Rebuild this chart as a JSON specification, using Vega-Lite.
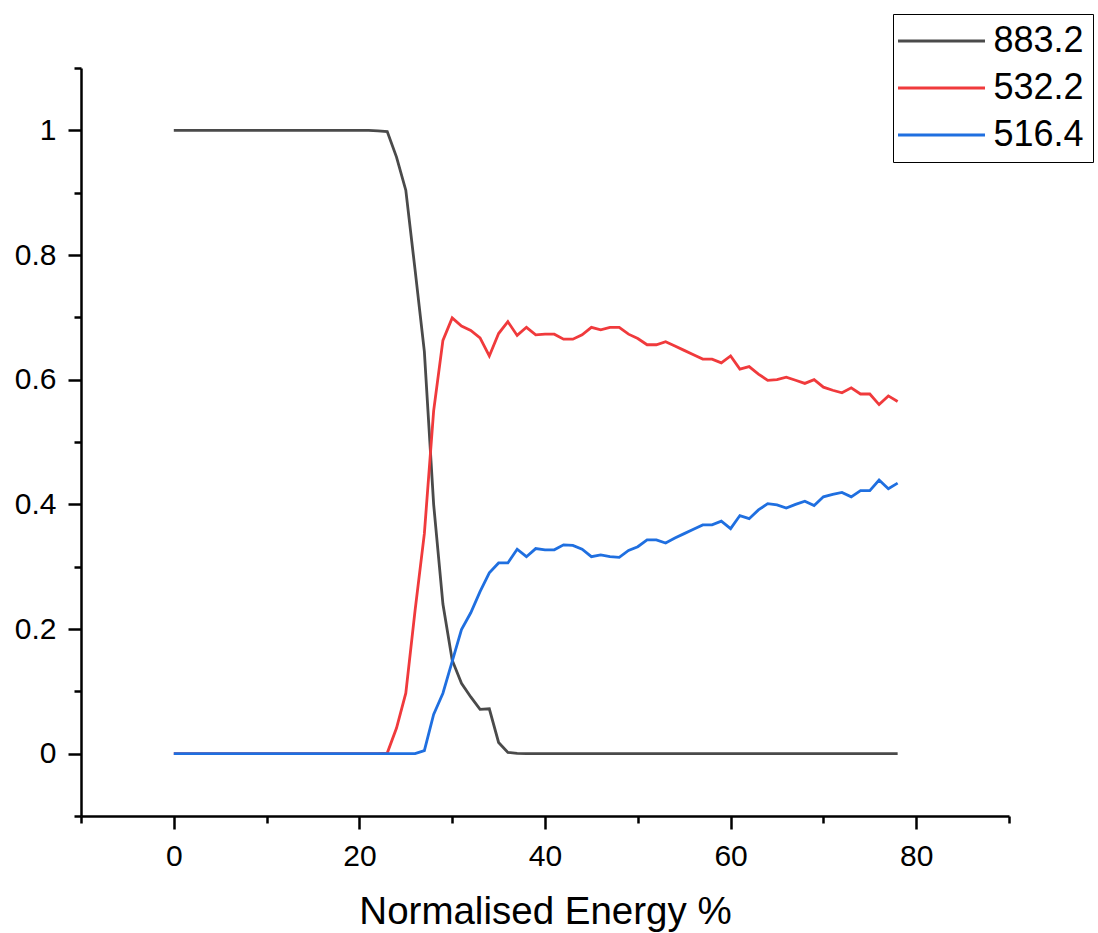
{
  "$schema": "https://vega.github.io/schema/vega-lite/v6.json",
  "width": 928,
  "height": 748,
  "autosize": {"type": "none"},
  "padding": {"left": 81, "top": 68, "right": 89, "bottom": 117},
  "background": "white",
  "config": {"font": "Liberation Sans", "view": {"stroke": null}},
  "datasets": {
    "curves": [
      {"x":0,"s":"883.2","y":1},{"x":1,"s":"883.2","y":1},{"x":2,"s":"883.2","y":1},{"x":3,"s":"883.2","y":1},{"x":4,"s":"883.2","y":1},{"x":5,"s":"883.2","y":1},{"x":6,"s":"883.2","y":1},{"x":7,"s":"883.2","y":1},{"x":8,"s":"883.2","y":1},{"x":9,"s":"883.2","y":1},{"x":10,"s":"883.2","y":1},{"x":11,"s":"883.2","y":1},{"x":12,"s":"883.2","y":1},{"x":13,"s":"883.2","y":1},{"x":14,"s":"883.2","y":1},{"x":15,"s":"883.2","y":1},{"x":16,"s":"883.2","y":1},{"x":17,"s":"883.2","y":1},{"x":18,"s":"883.2","y":1},{"x":19,"s":"883.2","y":1},{"x":20,"s":"883.2","y":1},{"x":21,"s":"883.2","y":1},{"x":22,"s":"883.2","y":0.999},{"x":23,"s":"883.2","y":0.998},{"x":24,"s":"883.2","y":0.957},{"x":25,"s":"883.2","y":0.904},{"x":26,"s":"883.2","y":0.776},{"x":27,"s":"883.2","y":0.645},{"x":28,"s":"883.2","y":0.4},{"x":29,"s":"883.2","y":0.24},{"x":30,"s":"883.2","y":0.15},{"x":31,"s":"883.2","y":0.113},{"x":32,"s":"883.2","y":0.091},{"x":33,"s":"883.2","y":0.071},{"x":34,"s":"883.2","y":0.072},{"x":35,"s":"883.2","y":0.018},{"x":36,"s":"883.2","y":0.002},{"x":37,"s":"883.2","y":0.0005},{"x":38,"s":"883.2","y":0},{"x":39,"s":"883.2","y":0},{"x":40,"s":"883.2","y":0},{"x":41,"s":"883.2","y":0},{"x":42,"s":"883.2","y":0},{"x":43,"s":"883.2","y":0},{"x":44,"s":"883.2","y":0},{"x":45,"s":"883.2","y":0},{"x":46,"s":"883.2","y":0},{"x":47,"s":"883.2","y":0},{"x":48,"s":"883.2","y":0},{"x":49,"s":"883.2","y":0},{"x":50,"s":"883.2","y":0},{"x":51,"s":"883.2","y":0},{"x":52,"s":"883.2","y":0},{"x":53,"s":"883.2","y":0},{"x":54,"s":"883.2","y":0},{"x":55,"s":"883.2","y":0},{"x":56,"s":"883.2","y":0},{"x":57,"s":"883.2","y":0},{"x":58,"s":"883.2","y":0},{"x":59,"s":"883.2","y":0},{"x":60,"s":"883.2","y":0},{"x":61,"s":"883.2","y":0},{"x":62,"s":"883.2","y":0},{"x":63,"s":"883.2","y":0},{"x":64,"s":"883.2","y":0},{"x":65,"s":"883.2","y":0},{"x":66,"s":"883.2","y":0},{"x":67,"s":"883.2","y":0},{"x":68,"s":"883.2","y":0},{"x":69,"s":"883.2","y":0},{"x":70,"s":"883.2","y":0},{"x":71,"s":"883.2","y":0},{"x":72,"s":"883.2","y":0},{"x":73,"s":"883.2","y":0},{"x":74,"s":"883.2","y":0},{"x":75,"s":"883.2","y":0},{"x":76,"s":"883.2","y":0},{"x":77,"s":"883.2","y":0},{"x":78,"s":"883.2","y":0},
      {"x":0,"s":"532.2","y":0},{"x":1,"s":"532.2","y":0},{"x":2,"s":"532.2","y":0},{"x":3,"s":"532.2","y":0},{"x":4,"s":"532.2","y":0},{"x":5,"s":"532.2","y":0},{"x":6,"s":"532.2","y":0},{"x":7,"s":"532.2","y":0},{"x":8,"s":"532.2","y":0},{"x":9,"s":"532.2","y":0},{"x":10,"s":"532.2","y":0},{"x":11,"s":"532.2","y":0},{"x":12,"s":"532.2","y":0},{"x":13,"s":"532.2","y":0},{"x":14,"s":"532.2","y":0},{"x":15,"s":"532.2","y":0},{"x":16,"s":"532.2","y":0},{"x":17,"s":"532.2","y":0},{"x":18,"s":"532.2","y":0},{"x":19,"s":"532.2","y":0},{"x":20,"s":"532.2","y":0},{"x":21,"s":"532.2","y":0},{"x":22,"s":"532.2","y":0},{"x":23,"s":"532.2","y":0.001},{"x":24,"s":"532.2","y":0.041},{"x":25,"s":"532.2","y":0.097},{"x":26,"s":"532.2","y":0.23},{"x":27,"s":"532.2","y":0.353},{"x":28,"s":"532.2","y":0.55},{"x":29,"s":"532.2","y":0.663},{"x":30,"s":"532.2","y":0.699},{"x":31,"s":"532.2","y":0.686},{"x":32,"s":"532.2","y":0.679},{"x":33,"s":"532.2","y":0.667},{"x":34,"s":"532.2","y":0.638},{"x":35,"s":"532.2","y":0.674},{"x":36,"s":"532.2","y":0.693},{"x":37,"s":"532.2","y":0.671},{"x":38,"s":"532.2","y":0.684},{"x":39,"s":"532.2","y":0.672},{"x":40,"s":"532.2","y":0.673},{"x":41,"s":"532.2","y":0.673},{"x":42,"s":"532.2","y":0.665},{"x":43,"s":"532.2","y":0.665},{"x":44,"s":"532.2","y":0.672},{"x":45,"s":"532.2","y":0.684},{"x":46,"s":"532.2","y":0.68},{"x":47,"s":"532.2","y":0.684},{"x":48,"s":"532.2","y":0.684},{"x":49,"s":"532.2","y":0.673},{"x":50,"s":"532.2","y":0.666},{"x":51,"s":"532.2","y":0.656},{"x":52,"s":"532.2","y":0.656},{"x":53,"s":"532.2","y":0.661},{"x":54,"s":"532.2","y":0.654},{"x":55,"s":"532.2","y":0.647},{"x":56,"s":"532.2","y":0.64},{"x":57,"s":"532.2","y":0.633},{"x":58,"s":"532.2","y":0.633},{"x":59,"s":"532.2","y":0.627},{"x":60,"s":"532.2","y":0.638},{"x":61,"s":"532.2","y":0.617},{"x":62,"s":"532.2","y":0.621},{"x":63,"s":"532.2","y":0.609},{"x":64,"s":"532.2","y":0.599},{"x":65,"s":"532.2","y":0.6},{"x":66,"s":"532.2","y":0.604},{"x":67,"s":"532.2","y":0.599},{"x":68,"s":"532.2","y":0.594},{"x":69,"s":"532.2","y":0.6},{"x":70,"s":"532.2","y":0.588},{"x":71,"s":"532.2","y":0.583},{"x":72,"s":"532.2","y":0.579},{"x":73,"s":"532.2","y":0.587},{"x":74,"s":"532.2","y":0.577},{"x":75,"s":"532.2","y":0.577},{"x":76,"s":"532.2","y":0.56},{"x":77,"s":"532.2","y":0.574},{"x":78,"s":"532.2","y":0.565},
      {"x":0,"s":"516.4","y":0},{"x":1,"s":"516.4","y":0},{"x":2,"s":"516.4","y":0},{"x":3,"s":"516.4","y":0},{"x":4,"s":"516.4","y":0},{"x":5,"s":"516.4","y":0},{"x":6,"s":"516.4","y":0},{"x":7,"s":"516.4","y":0},{"x":8,"s":"516.4","y":0},{"x":9,"s":"516.4","y":0},{"x":10,"s":"516.4","y":0},{"x":11,"s":"516.4","y":0},{"x":12,"s":"516.4","y":0},{"x":13,"s":"516.4","y":0},{"x":14,"s":"516.4","y":0},{"x":15,"s":"516.4","y":0},{"x":16,"s":"516.4","y":0},{"x":17,"s":"516.4","y":0},{"x":18,"s":"516.4","y":0},{"x":19,"s":"516.4","y":0},{"x":20,"s":"516.4","y":0},{"x":21,"s":"516.4","y":0},{"x":22,"s":"516.4","y":0},{"x":23,"s":"516.4","y":0},{"x":24,"s":"516.4","y":0},{"x":25,"s":"516.4","y":0},{"x":26,"s":"516.4","y":0},{"x":27,"s":"516.4","y":0.005},{"x":28,"s":"516.4","y":0.063},{"x":29,"s":"516.4","y":0.097},{"x":30,"s":"516.4","y":0.148},{"x":31,"s":"516.4","y":0.199},{"x":32,"s":"516.4","y":0.226},{"x":33,"s":"516.4","y":0.26},{"x":34,"s":"516.4","y":0.29},{"x":35,"s":"516.4","y":0.306},{"x":36,"s":"516.4","y":0.306},{"x":37,"s":"516.4","y":0.328},{"x":38,"s":"516.4","y":0.316},{"x":39,"s":"516.4","y":0.329},{"x":40,"s":"516.4","y":0.327},{"x":41,"s":"516.4","y":0.327},{"x":42,"s":"516.4","y":0.335},{"x":43,"s":"516.4","y":0.334},{"x":44,"s":"516.4","y":0.328},{"x":45,"s":"516.4","y":0.316},{"x":46,"s":"516.4","y":0.319},{"x":47,"s":"516.4","y":0.316},{"x":48,"s":"516.4","y":0.315},{"x":49,"s":"516.4","y":0.326},{"x":50,"s":"516.4","y":0.332},{"x":51,"s":"516.4","y":0.343},{"x":52,"s":"516.4","y":0.343},{"x":53,"s":"516.4","y":0.338},{"x":54,"s":"516.4","y":0.346},{"x":55,"s":"516.4","y":0.353},{"x":56,"s":"516.4","y":0.36},{"x":57,"s":"516.4","y":0.367},{"x":58,"s":"516.4","y":0.367},{"x":59,"s":"516.4","y":0.373},{"x":60,"s":"516.4","y":0.361},{"x":61,"s":"516.4","y":0.382},{"x":62,"s":"516.4","y":0.377},{"x":63,"s":"516.4","y":0.391},{"x":64,"s":"516.4","y":0.401},{"x":65,"s":"516.4","y":0.399},{"x":66,"s":"516.4","y":0.394},{"x":67,"s":"516.4","y":0.4},{"x":68,"s":"516.4","y":0.405},{"x":69,"s":"516.4","y":0.398},{"x":70,"s":"516.4","y":0.412},{"x":71,"s":"516.4","y":0.416},{"x":72,"s":"516.4","y":0.419},{"x":73,"s":"516.4","y":0.412},{"x":74,"s":"516.4","y":0.422},{"x":75,"s":"516.4","y":0.422},{"x":76,"s":"516.4","y":0.439},{"x":77,"s":"516.4","y":0.425},{"x":78,"s":"516.4","y":0.434}
    ]
  },
  "data": {"name": "curves"},
  "mark": {"type": "line", "strokeWidth": 2.8, "strokeJoin": "miter"},
  "encoding": {
    "x": {
      "field": "x", "type": "quantitative",
      "scale": {"domain": [-10, 90], "nice": false, "zero": false},
      "axis": {
        "title": "Normalised Energy %",
        "values": [-10, 0, 10, 20, 30, 40, 50, 60, 70, 80, 90],
        "labelExpr": "datum.value % 20 === 0 ? datum.label : ''",
        "grid": false,
        "domainColor": "black", "domainWidth": 2.5,
        "tickColor": "black", "tickWidth": 2.5,
        "tickSize": {"condition": {"test": "datum.value % 20 === 0", "value": 13}, "value": 7},
        "labelFontSize": 30, "labelColor": "black", "labelPadding": 12, "labelFont": "Liberation Sans",
        "titleFontSize": 38.5, "titleColor": "black", "titleFontWeight": "normal", "titleFont": "Liberation Sans", "titlePadding": 22
      }
    },
    "y": {
      "field": "y", "type": "quantitative",
      "scale": {"domain": [-0.1, 1.1], "nice": false, "zero": false},
      "axis": {
        "title": null,
        "values": [-0.1, 0, 0.1, 0.2, 0.3, 0.4, 0.5, 0.6, 0.7, 0.8, 0.9, 1, 1.1],
        "labelExpr": "abs(datum.value * 5 - round(datum.value * 5)) < 0.001 ? format(datum.value, '~g') : ''",
        "grid": false,
        "domainColor": "black", "domainWidth": 2.5,
        "tickColor": "black", "tickWidth": 2.5,
        "tickSize": {"condition": {"test": "abs(datum.value * 5 - round(datum.value * 5)) < 0.001", "value": 13}, "value": 7},
        "labelFontSize": 30, "labelColor": "black", "labelPadding": 12, "labelFont": "Liberation Sans"
      }
    },
    "color": {
      "field": "s", "type": "nominal",
      "scale": {"domain": ["883.2", "532.2", "516.4"], "range": ["#4a4a4a", "#f03a3c", "#1f6fe0"]},
      "legend": {
        "title": null,
        "orient": "none",
        "legendX": 812,
        "legendY": -54,
        "direction": "vertical",
        "strokeColor": "black",
        "fillColor": "white",
        "padding": 9,
        "rowPadding": 11,
        "symbolType": "M-4.35,0H4.35",
        "symbolSize": 400,
        "symbolStrokeWidth": 2.8,
        "symbolOffset": 21.5,
        "labelOffset": 34,
        "labelFontSize": 36,
        "labelFont": "Liberation Sans",
        "labelColor": "black",
        "labelLimit": 300
      }
    }
  }
}
